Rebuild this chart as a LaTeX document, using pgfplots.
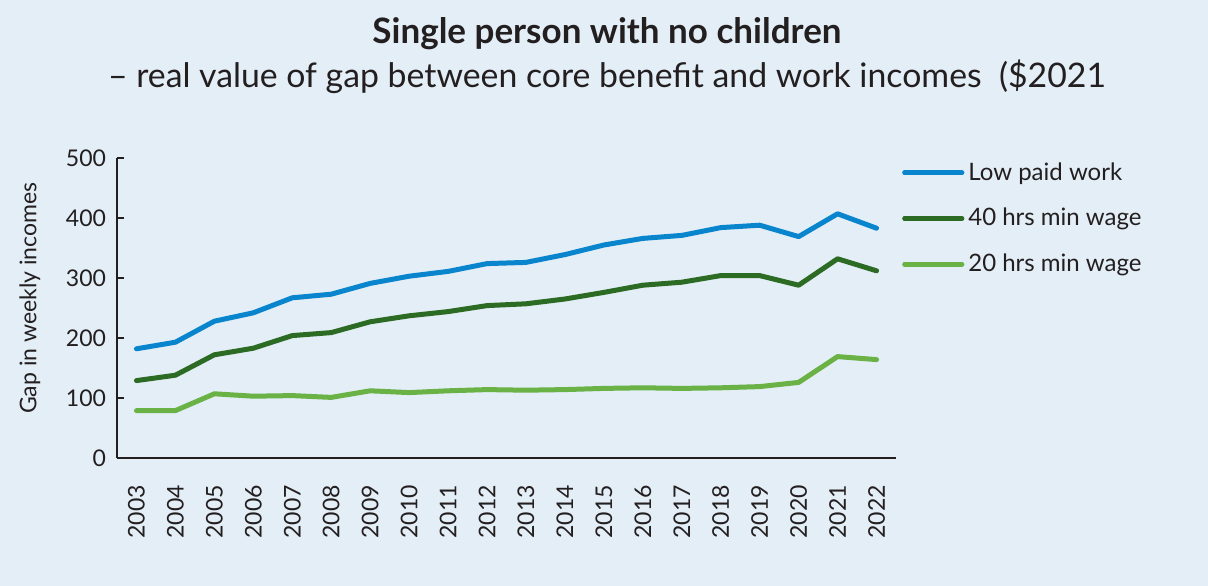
\documentclass[border=0pt]{standalone}
\usepackage{pgfplots}
\pgfplotsset{compat=1.18}
\usepackage{fontspec}
\setmainfont{Lato}
\definecolor{bgc}{RGB}{228,238,247}
\definecolor{txt}{RGB}{35,31,32}
\definecolor{cblue}{RGB}{8,133,204}
\definecolor{cdark}{RGB}{43,107,35}
\definecolor{clight}{RGB}{106,178,69}
\begin{document}
\begin{tikzpicture}
\fill[bgc] (0,0) rectangle (604bp,293bp);
\node[anchor=base, font=\bfseries\fontsize{17.5bp}{19bp}\selectfont, text=txt] at (303.5bp,271bp) {Single person with no children};
\node[anchor=base, font=\fontsize{16.9bp}{19bp}\selectfont, text=txt] at (303.5bp,249bp) {– real value of gap between core benefit and work incomes\ \ (\$2021};
\begin{axis}[
  at={(58.5bp,64bp)}, anchor=south west,
  scale only axis, width=389.5bp, height=150bp,
  xmin=-0.5, xmax=19.5, ymin=0, ymax=500,
  axis lines*=left,
  axis line style={txt, line width=1bp},
  every tick/.style={txt, line width=1bp},
  tick align=inside,
  ytick={0,100,...,500},
  major tick length=3.5bp,
  xtick={0,...,19},
  xticklabels={2003,2004,2005,2006,2007,2008,2009,2010,2011,2012,2013,2014,2015,2016,2017,2018,2019,2020,2021,2022},
  x tick style={draw=none},
  minor xtick={0.5,1.5,...,19.5},
  minor x tick style={txt, line width=1bp},
  minor tick length=3.5bp,
  xticklabel style={rotate=90, anchor=east, font=\fontsize{11.5bp}{13bp}\selectfont, text=txt},
  yticklabel style={font=\fontsize{11.5bp}{13bp}\selectfont, text=txt},
  xticklabel shift=10bp,
  yticklabel shift=2bp,
  /pgf/number format/assume math mode=true,
  ylabel={Gap in weekly incomes},
  ylabel style={at={(axis description cs:-0.112,0.533)}, anchor=center, rotate=0, font=\fontsize{11.5bp}{13bp}\selectfont, text=txt},
  legend style={at={(axis description cs:1.0,1.013)}, anchor=north west, draw=none, fill=none, font=\fontsize{12bp}{14bp}\selectfont, text=txt, row sep=8.5bp},
  legend cell align=left,
  legend image code/.code={\draw[#1, line width=2.5bp, line cap=round] (0bp,0bp) -- (24bp,0bp); \path (0bp,0bp) -- (28.5bp,0bp);},
  every axis plot/.append style={line width=2.5bp, line join=round, line cap=round, no markers},
]
\addplot[cblue] coordinates {(0,182)(1,193)(2,228)(3,242)(4,267)(5,273)(6,291)(7,303)(8,311)(9,324)(10,326)(11,339)(12,355)(13,366)(14,371)(15,384)(16,388)(17,369)(18,407)(19,383)};
\addlegendentry{Low paid work}
\addplot[cdark] coordinates {(0,129)(1,138)(2,172)(3,183)(4,204)(5,209)(6,227)(7,237)(8,244)(9,254)(10,257)(11,265)(12,276)(13,288)(14,293)(15,304)(16,304)(17,288)(18,332)(19,312)};
\addlegendentry{40 hrs min wage}
\addplot[clight] coordinates {(0,79)(1,79)(2,107)(3,103)(4,104)(5,101)(6,112)(7,109)(8,112)(9,114)(10,113)(11,114)(12,116)(13,117)(14,116)(15,117)(16,119)(17,126)(18,169)(19,164)};
\addlegendentry{20 hrs min wage}
\end{axis}
\end{tikzpicture}
\end{document}
